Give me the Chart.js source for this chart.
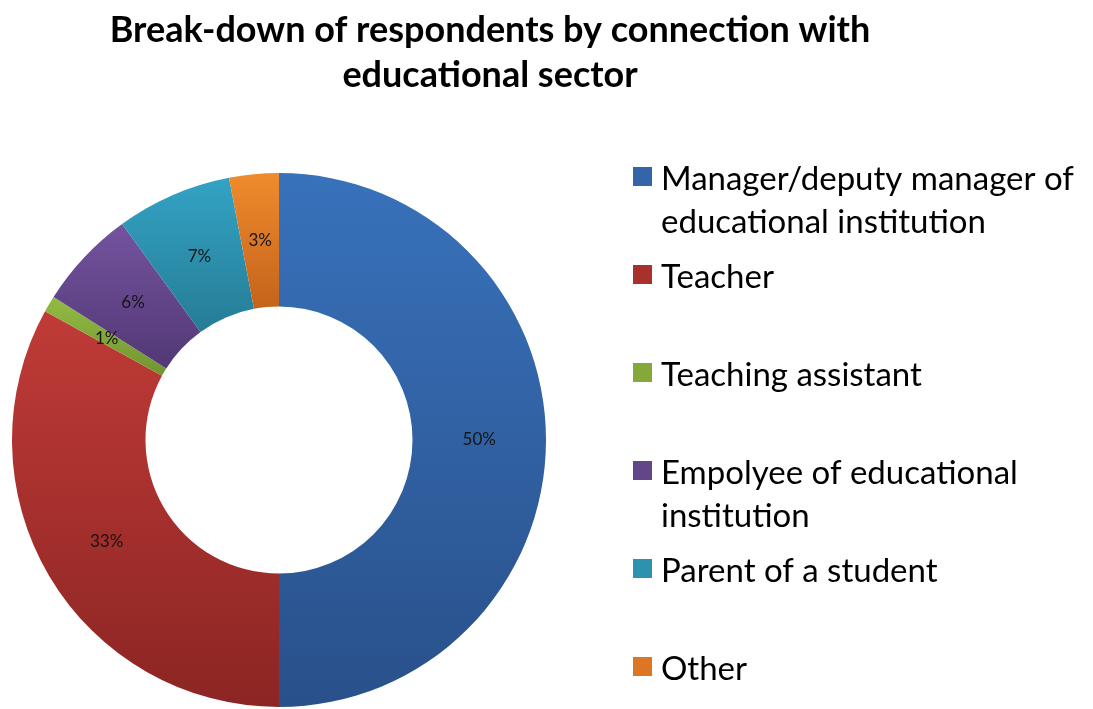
<!DOCTYPE html>
<html>
<head>
<meta charset="utf-8">
<script src="https://cdn.jsdelivr.net/npm/chart.js@4.4.1/dist/chart.umd.min.js"></script>
<style>
  html, body { margin: 0; padding: 0; background: #fff; }
  #wrap { width: 1093px; height: 709px; }
</style>
</head>
<body>
<div id="wrap"><canvas id="chart" width="1093" height="709"></canvas></div>
<script>
const titleLines = ['Break-down of respondents by connection with', 'educational sector'];
const categories = [
  ['Manager/deputy manager of', 'educational institution'],
  ['Teacher'],
  ['Teaching assistant'],
  ['Empolyee of educational', 'institution'],
  ['Parent of a student'],
  ['Other']
];
const shares = [50, 33, 1, 6, 7, 3];

// light -> dark shading for each slice, plus a flat tone for the legend keys
const topColors = ['#3872bb', '#c03b37', '#93bb42', '#74539f', '#33a3c4', '#f08b2d'];
const bottomColors = ['#29508a', '#8b2523', '#729431', '#523875', '#257c96', '#c4631b'];
const flatColors = ['#3465a8', '#a8302d', '#84a93a', '#634689', '#2c92b0', '#dc7625'];

const FONT = 'Lato, "Open Sans", sans-serif';

// per-slice vertical gradient, sized to the slice's own bounds
const sliceShading = {
  id: 'sliceShading',
  beforeDatasetsDraw(chart) {
    const ctx = chart.ctx;
    chart.getDatasetMeta(0).data.forEach((arc, i) => {
      const p = arc.getProps(['x', 'y', 'startAngle', 'endAngle', 'innerRadius', 'outerRadius'], true);
      let yMin = Infinity, yMax = -Infinity;
      for (let k = 0; k <= 40; k++) {
        const a = p.startAngle + (p.endAngle - p.startAngle) * k / 40;
        for (const r of [p.innerRadius, p.outerRadius]) {
          const yy = p.y + Math.sin(a) * r;
          yMin = Math.min(yMin, yy);
          yMax = Math.max(yMax, yy);
        }
      }
      const g = ctx.createLinearGradient(0, yMin, 0, yMax);
      g.addColorStop(0, topColors[i]);
      g.addColorStop(1, bottomColors[i]);
      arc.options.backgroundColor = g;
    });
  }
};

const sliceLabels = {
  id: 'sliceLabels',
  afterDatasetsDraw(chart) {
    const ctx = chart.ctx;
    ctx.save();
    ctx.font = '17px ' + FONT;
    ctx.fillStyle = '#151515';
    ctx.textAlign = 'center';
    ctx.textBaseline = 'middle';
    chart.getDatasetMeta(0).data.forEach((arc, i) => {
      const pos = arc.tooltipPosition();
      ctx.fillText(shares[i] + '%', pos.x, pos.y);
    });
    ctx.restore();
  }
};

const header = {
  id: 'header',
  afterDraw(chart) {
    const ctx = chart.ctx;
    ctx.save();
    ctx.font = 'bold 36px ' + FONT;
    ctx.fillStyle = '#000';
    ctx.textAlign = 'center';
    ctx.textBaseline = 'alphabetic';
    titleLines.forEach((line, i) => ctx.fillText(line, 490, 42 + i * 45));
    ctx.restore();
  }
};

const sideLegend = {
  id: 'sideLegend',
  afterDraw(chart) {
    const ctx = chart.ctx;
    ctx.save();
    ctx.font = '33px ' + FONT;
    ctx.textBaseline = 'alphabetic';
    categories.forEach((lines, i) => {
      const base = 190 + i * 98;
      ctx.fillStyle = flatColors[i];
      ctx.fillRect(633, base - 23, 19, 19);
      ctx.fillStyle = '#000';
      lines.forEach((txt, j) => ctx.fillText(txt, 661, base + j * 43));
    });
    ctx.restore();
  }
};

new Chart(document.getElementById('chart'), {
  type: 'doughnut',
  data: {
    labels: categories.map(c => c.join(' ')),
    datasets: [{
      data: shares,
      backgroundColor: flatColors,
      borderWidth: 0,
      hoverBorderWidth: 0,
      hoverOffset: 0,
      offset: 0
    }]
  },
  options: {
    responsive: false,
    animation: false,
    cutout: '50%',
    layout: { padding: { top: 173, left: 12, right: 547, bottom: 2 } },
    plugins: {
      legend: { display: false },
      title: { display: false },
      tooltip: { enabled: false }
    }
  },
  plugins: [sliceShading, sliceLabels, header, sideLegend]
});
</script>
</body>
</html>
